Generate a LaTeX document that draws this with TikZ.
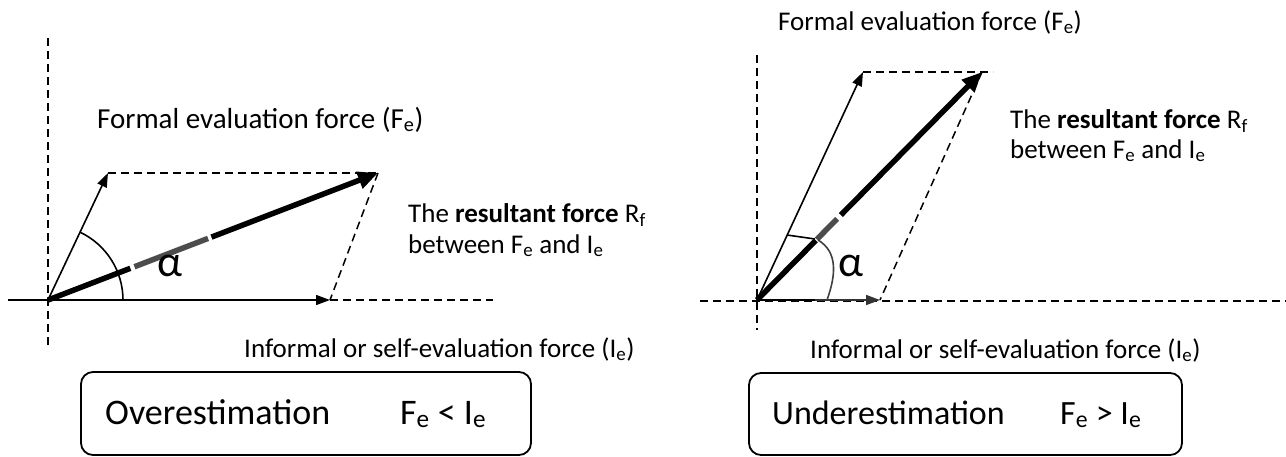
\documentclass[tikz,border=0pt]{standalone}
\usepackage{fontspec}
\setmainfont{Carlito}
\usetikzlibrary{arrows.meta,calc}

\newcommand{\lbl}{\fontsize{27}{32}\selectfont}
\newcommand{\lblbig}{\fontsize{29}{34}\selectfont}
\newcommand{\boxfont}{\fontsize{34}{40}\selectfont}
\newcommand{\boxfontbig}{\fontsize{36}{42}\selectfont}
\newcommand{\alphafont}{\fontsize{44}{48}\selectfont}

\tikzset{
  axisline/.style={line width=1.6pt, dash pattern=on 8pt off 5pt},
  guide/.style={line width=1.5pt, dash pattern=on 8pt off 5pt},
  thinarrow/.style={line width=1.6pt, -{Triangle[length=14pt,width=10pt]}},
  thickarrow/.style={line width=5.5pt, -{Triangle[length=20pt,width=17pt]}},
  lab/.style={inner sep=0pt, anchor=base west, font=\lbl},
  casebox/.style={draw, line width=1.8pt, rounded corners=12pt, inner sep=0pt},
  casetext/.style={inner sep=0pt, anchor=base west, font=\boxfont},
  greekmark/.style={inner sep=0pt, font=\alphafont},
}

\begin{document}
\begin{tikzpicture}[x=1pt, y=-1pt]
  \useasboundingbox (0,0) rectangle (1286,456);

  % ---------- left diagram: overestimation ----------
  \coordinate (O1) at (48,300);
  \coordinate (F1) at (108,173);
  \coordinate (I1) at (330,300);
  \coordinate (R1) at (378,173);
  \coordinate (V1t) at (48,38);
  \coordinate (V1b) at (48,345);
  \coordinate (H1l) at (8,300);
  \coordinate (H1r) at (493,300);

  \draw[axisline] (V1t) -- (V1b);
  \draw[axisline] (I1) -- (H1r);
  \draw[thinarrow] (H1l) -- (I1);
  \draw[guide] (F1) -- (R1);
  \draw[guide] (R1) -- (I1);
  \draw[thinarrow] (O1) -- (F1);
  \draw[thickarrow] (O1) -- (R1);
  \draw[white, line width=6.5pt] ($(O1)!0.250!(R1)$) -- ($(O1)!0.495!(R1)$);
  \draw[black!70, line width=5.5pt] ($(O1)!0.262!(R1)$) -- ($(O1)!0.485!(R1)$);
  \draw[line width=1.6pt] (O1) ++(-64.7:75) arc[start angle=-64.7, end angle=0, radius=75];
  \node[greekmark] (a1) at (170,266) {α};

  \node[lab, font=\lblbig] (fe1) at (97,128) {Formal evaluation force (F\textsubscript{e})};
  \node[lab] (rf1) at (408,222) {The \textbf{resultant force} R\textsubscript{f}};
  \node[lab] (bt1) at (408,253) {between F\textsubscript{e} and I\textsubscript{e}};
  \node[lab] (ie1) at (244,357) {Informal or self-evaluation force (I\textsubscript{e})};

  \node[casebox, minimum width=450pt, minimum height=83pt] (box1) at (306,413.5) {};
  \node[casetext, font=\boxfontbig] (ov) at (105,424) {Overestimation};
  \node[casetext, font=\boxfontbig] (ov2) at (400,424) {F\textsubscript{e} < I\textsubscript{e}};

  % ---------- right diagram: underestimation ----------
  \coordinate (O2) at (757,300);
  \coordinate (F2) at (863,72);
  \coordinate (I2) at (880,300);
  \coordinate (R2) at (982,72);
  \coordinate (T2r) at (993,72);
  \coordinate (V2t) at (757,55);
  \coordinate (V2b) at (757,330);
  \coordinate (H2l) at (700,301);
  \coordinate (H2r) at (1286,301);
  \coordinate (Ib2) at (815,300);
  \coordinate (arcA) at (787,235);
  \coordinate (arcB) at (815,239);
  \coordinate (arcC) at (818,240);
  \coordinate (arcD) at (827,300);

  \draw[axisline] (V2t) -- (V2b);
  \draw[axisline] (H2l) -- (H2r);
  \draw[guide] (F2) -- (T2r);
  \draw[guide] (R2) -- (I2);
  \draw[thinarrow, black!80] (O2) -- (I2);
  \draw[line width=2.4pt] (O2) -- (Ib2);
  \draw[thinarrow] (O2) -- (F2);
  \draw[thickarrow] (O2) -- (R2);
  \draw[white, line width=6.5pt] ($(O2)!0.262!(R2)$) -- ($(O2)!0.372!(R2)$);
  \draw[black!70, line width=5.5pt] ($(O2)!0.266!(R2)$) -- ($(O2)!0.356!(R2)$);
  \draw[line width=1.6pt] (arcA) -- (arcB);
  \draw[black!75, line width=1.6pt] (arcC) .. controls (838,252) and (836,275) .. (arcD);
  \node[greekmark] (a2) at (851,266) {α};

  \node[lab] (fe2) at (778,30) {Formal evaluation force (F\textsubscript{e})};
  \node[lab] (rf2) at (1010,128) {The \textbf{resultant force} R\textsubscript{f}};
  \node[lab] (bt2) at (1010,158) {between F\textsubscript{e} and I\textsubscript{e}};
  \node[lab] (ie2) at (810,358) {Informal or self-evaluation force (I\textsubscript{e})};

  \node[casebox, minimum width=433pt, minimum height=82pt] (box2) at (965.5,414) {};
  \node[casetext] (un) at (772,424) {Underestimation};
  \node[casetext] (un2) at (1060,424) {F\textsubscript{e} > I\textsubscript{e}};
\end{tikzpicture}
\end{document}
